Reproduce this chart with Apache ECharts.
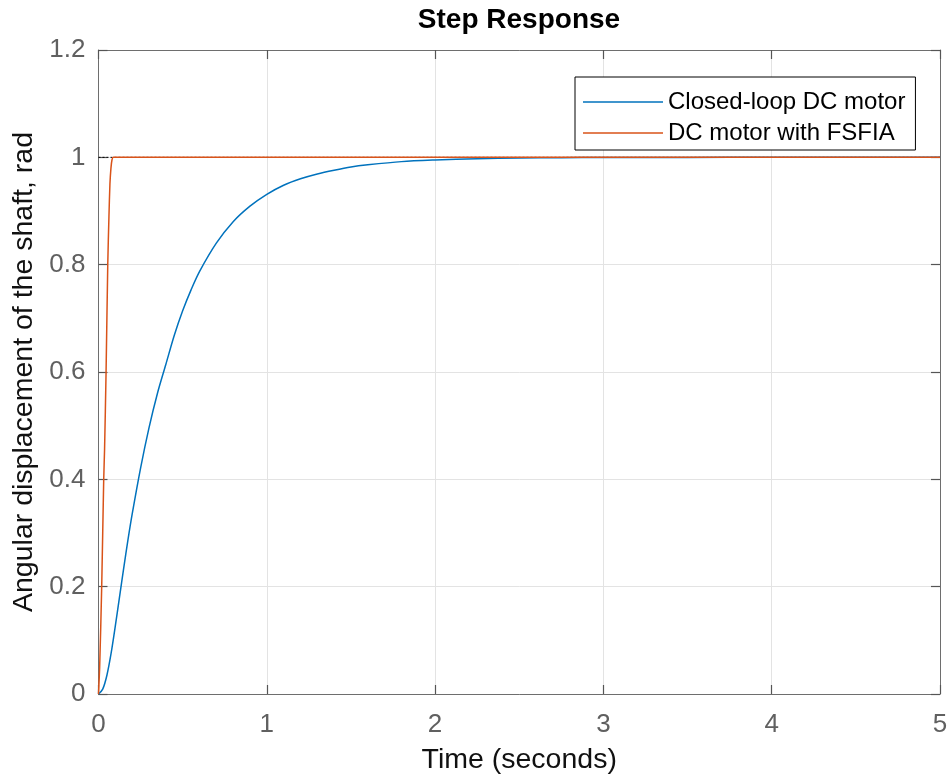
<!DOCTYPE html>
<html>
<head>
<meta charset="utf-8">
<script src="https://cdn.jsdelivr.net/npm/echarts@6/dist/echarts.min.js"></script>
<style>
  html, body { margin: 0; padding: 0; background: #fff; }
  #chart { width: 950px; height: 778px; }
</style>
</head>
<body>
<div id="chart"></div>
<script>
// Step response of the shaft angle: time (s) against displacement (rad)
const seriesNames = ['Closed-loop DC motor', 'DC motor with FSFIA'];

const closedLoopT = [0, 0.025, 0.05, 0.075, 0.10, 0.125, 0.15, 0.175, 0.20, 0.25, 0.30, 0.35,
  0.40, 0.45, 0.50, 0.55, 0.60, 0.70, 0.80, 0.90, 1.00, 1.10, 1.20, 1.30, 1.40, 1.50,
  1.60, 1.80, 2.00, 2.25, 2.50, 2.75, 3.00, 3.50, 4.00, 5.00];
const closedLoopY = [0, 0.009, 0.035, 0.076, 0.127, 0.181, 0.235, 0.287, 0.335, 0.421, 0.496, 0.560,
  0.614, 0.668, 0.714, 0.753, 0.787, 0.840, 0.880, 0.909, 0.931, 0.948, 0.960, 0.969, 0.976, 0.982,
  0.986, 0.992, 0.995, 0.9975, 0.9987, 0.9993, 0.9996, 0.9999, 1.000, 1.000];

const fsfiaT = [0, 0.007, 0.019, 0.031, 0.036, 0.045, 0.055, 0.062, 0.068, 0.074, 0.080, 0.088, 5.0];
const fsfiaY = [0, 0.051, 0.200, 0.400, 0.455, 0.600, 0.800, 0.889, 0.951, 0.980, 0.995, 1.000, 1.000];

// steady-state reference level
const steadyT = [0, 5];
const steadyY = [1, 1];

const xTickLabels = ['0', '1', '2', '3', '4', '5'];
const yTickLabels = ['0', '0.2', '0.4', '0.6', '0.8', '1', '1.2'];

const FONT = 'Liberation Sans, Arial, Helvetica, sans-serif';
const zip = (a, b) => a.map((v, i) => [v, b[i]]);

const chart = echarts.init(document.getElementById('chart'), null, { renderer: 'canvas' });

const axisLineStyle = { color: '#6e6e6e', width: 1 };
const tickStyle = { show: true, inside: true, length: 9, lineStyle: { color: '#555', width: 1.2 } };

chart.setOption({
  animation: false,
  backgroundColor: '#ffffff',
  title: {
    text: 'Step Response',
    left: 519, top: 6, textAlign: 'center', padding: 0,
    textStyle: { fontFamily: FONT, fontWeight: 'bold', fontSize: 28, color: '#000' }
  },
  legend: {
    data: seriesNames.map(n => ({ name: n, icon: 'rect' })),
    orient: 'vertical',
    left: 575, top: 77,
    padding: [12, 10, 4, 8],
    itemGap: 5,
    itemWidth: 80, itemHeight: 1.4,
    backgroundColor: '#fff',
    borderColor: '#000', borderWidth: 1, borderRadius: 0,
    textStyle: { fontFamily: FONT, fontSize: 24, color: '#000', lineHeight: 26 }
  },
  grid: { left: 98.5, right: 10, top: 50, bottom: 84, containLabel: false, outerBoundsMode: 'none' },
  xAxis: [{
    type: 'value', min: 0, max: 5, interval: 1,
    name: 'Time (seconds)', nameLocation: 'middle', nameGap: 52,
    nameTextStyle: { fontFamily: FONT, fontSize: 28.5, color: '#111' },
    axisLine: { show: true, onZero: false, lineStyle: axisLineStyle },
    axisTick: tickStyle,
    axisLabel: {
      margin: 18, fontFamily: FONT, fontSize: 26, color: '#606060',
      formatter: v => xTickLabels[Math.round(v)]
    },
    splitLine: { show: true, lineStyle: { color: '#e3e3e3', width: 1 } }
  }, {
    type: 'value', min: 0, max: 5, interval: 1, position: 'top',
    axisLine: { show: true, onZero: false, lineStyle: axisLineStyle },
    axisTick: tickStyle, axisLabel: { show: false }, splitLine: { show: false }
  }],
  yAxis: [{
    type: 'value', min: 0, max: 1.2, interval: 0.2,
    name: 'Angular displacement of the shaft, rad', nameLocation: 'middle', nameGap: 59,
    nameTextStyle: { fontFamily: FONT, fontSize: 28.5, color: '#111' },
    axisLine: { show: true, onZero: false, lineStyle: axisLineStyle },
    axisTick: tickStyle,
    axisLabel: {
      margin: 13, fontFamily: FONT, fontSize: 26, color: '#606060',
      formatter: v => yTickLabels[Math.round(v / 0.2)]
    },
    splitLine: { show: true, lineStyle: { color: '#e3e3e3', width: 1 } }
  }, {
    type: 'value', min: 0, max: 1.2, interval: 0.2, position: 'right',
    axisLine: { show: true, onZero: false, lineStyle: axisLineStyle },
    axisTick: tickStyle, axisLabel: { show: false }, splitLine: { show: false }
  }],
  series: [
    {
      name: 'steady', type: 'line', data: zip(steadyT, steadyY),
      symbol: 'none', silent: true, z: 1,
      lineStyle: { color: '#000', width: 1, type: [2, 2] }
    },
    {
      name: seriesNames[0], type: 'line', data: zip(closedLoopT, closedLoopY),
      symbol: 'none', smooth: 0.3, z: 3,
      color: '#0072BD', lineStyle: { color: '#0072BD', width: 1.5 }
    },
    {
      name: seriesNames[1], type: 'line', data: zip(fsfiaT, fsfiaY),
      symbol: 'none', smooth: 0.25, z: 4,
      color: '#D95319', lineStyle: { color: '#D95319', width: 1.5 }
    }
  ]
});
</script>
</body>
</html>
